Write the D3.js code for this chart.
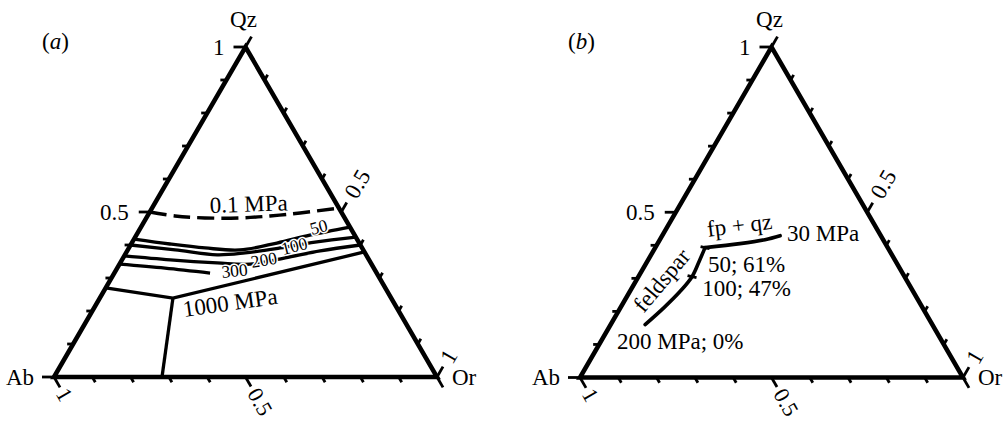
<!DOCTYPE html>
<html>
<head>
<meta charset="utf-8">
<script src="https://cdn.jsdelivr.net/npm/d3@7"></script>
<style>
  html, body { margin: 0; padding: 0; background: #fff; }
</style>
</head>
<body>
<svg id="chart" width="1006" height="422" style="font-family: 'Liberation Serif', 'Times New Roman', Times, serif;"></svg>
<script>
// Compositions are written as [Qz, Or]; Ab = 1 - Qz - Or.

const tickValues = d3.range(0, 11).map(i => i / 10);
const panelTitles = ["a", "b"];
const leftAxisLabels = [{ v: 1, text: "1" }, { v: 0.5, text: "0.5" }];      // Qz fraction
const bottomAxisLabels = [{ v: 1, text: "1" }, { v: 0.5, text: "0.5" }];    // Ab fraction
const rightAxisLabels = [{ v: 0.5, text: "0.5" }, { v: 1, text: "1" }];     // Or fraction

// (a) cotectic / minimum-melt lines at different pressures
const isobar01 = [[0.500, 0.000], [0.488, 0.072], [0.482, 0.153], [0.482, 0.245], [0.488, 0.320], [0.497, 0.394], [0.512, 0.488]];
const isobar50 = [[0.418, 0.000], [0.403, 0.101], [0.391, 0.199], [0.385, 0.293], [0.406, 0.379], [0.430, 0.453], [0.4545, 0.5455]];
const isobar100 = [[0.400, 0.000], [0.385, 0.124], [0.370, 0.241], [0.376, 0.311], [0.391, 0.395], [0.409, 0.477], [0.424, 0.576]];
const isobar200 = [[0.367, 0.000], [0.355, 0.126], [0.346, 0.253], [0.342, 0.341], [0.361, 0.423], [0.382, 0.504], [0.400, 0.600]];
const isobar300 = [[0.342, 0.000], [0.330, 0.125], [0.315, 0.250]];
const isobar1000 = [[0.270, 0.000], [0.239, 0.191], [0.379, 0.621]];
const isobar1000Tail = [[0.239, 0.191], [0.000, 0.282]];

const isobarLabels = [
  { text: "0.1 MPa", at: [0.497, 0.159], angle: -2, small: false },
  { text: "50", at: [0.430, 0.458], angle: -15, small: true },
  { text: "100", at: [0.370, 0.413], angle: -14, small: true },
  { text: "200", at: [0.330, 0.352], angle: -10, small: true },
  { text: "300", at: [0.300, 0.289], angle: -6, small: true },
  { text: "1000 MPa", at: [0.182, 0.2485], angle: -8, small: false }
];

// (b) crystallization path
const fpQzPath = [[0.393, 0.130], [0.405, 0.215], [0.417, 0.2745], [0.429, 0.308]];
const feldsparPath = [[0.393, 0.130], [0.3505, 0.1355], [0.305, 0.140], [0.260, 0.131], [0.2115, 0.1136], [0.160, 0.090]];
const pathMarks = [[0.393, 0.130], [0.305, 0.140]];
const pathLabels = [
  { text: "fp + qz", at: [0.426, 0.121], angle: -7, anchor: "start" },
  { text: "30 MPa", at: [0.414, 0.3335], angle: 0, anchor: "start" },
  { text: "50; 61%", at: [0.320, 0.174], angle: 0, anchor: "start" },
  { text: "100; 47%", at: [0.248, 0.195], angle: 0, anchor: "start" },
  { text: "200 MPa; 0%", at: [0.085, 0.054], angle: 0, anchor: "start" },
  { text: "feldspar", at: [0.290, 0.072], angle: -50, anchor: "middle" }
];

const BIG = 23, SMALL = 17.5;
const svg = d3.select("#chart");

const panels = [
  { x0: 54, x1: 437, yBase: 377, yApex: 47 },
  { x0: 580, x1: 963, yBase: 377.5, yApex: 47 }
];

function makePanel(geom, title) {
  const g = svg.append("g");
  const x = d3.scaleLinear().domain([0, 1]).range([geom.x0, geom.x1]);
  const y = d3.scaleLinear().domain([0, 1]).range([geom.yBase, geom.yApex]);
  const P = ([qz, or]) => [x(or + qz / 2), y(qz)];
  const line = d3.line().x(d => P(d)[0]).y(d => P(d)[1]);
  const smooth = d3.line().x(d => P(d)[0]).y(d => P(d)[1]).curve(d3.curveCatmullRom.alpha(0.5));

  // triangle
  g.append("path")
    .attr("d", line([[0, 0], [1, 0], [0, 1], [0, 0]]) + "Z")
    .attr("fill", "none").attr("stroke", "#000").attr("stroke-width", 4.5)
    .attr("stroke-linejoin", "miter");

  const tickLen = v => (v === 0 || v === 1) ? 12 : (v === 0.5 ? 11 : 6);
  const dirLeft = [-1, 0], dirBottom = [0.5, 0.866], dirRight = [0.5, -0.866];
  const ticks = g.append("g").attr("stroke", "#000").attr("stroke-width", 2.8);
  tickValues.forEach(v => {
    const a = P([v, 0]);                // Qz axis (left edge)
    ticks.append("line").attr("x1", a[0]).attr("y1", a[1])
      .attr("x2", a[0] + dirLeft[0] * tickLen(v)).attr("y2", a[1] + dirLeft[1] * tickLen(v));
    const b = P([0, 1 - v]);            // Ab axis (bottom edge)
    ticks.append("line").attr("x1", b[0]).attr("y1", b[1])
      .attr("x2", b[0] + dirBottom[0] * tickLen(v)).attr("y2", b[1] + dirBottom[1] * tickLen(v));
    const c = P([1 - v, v]);            // Or axis (right edge)
    ticks.append("line").attr("x1", c[0]).attr("y1", c[1])
      .attr("x2", c[0] + dirRight[0] * tickLen(v)).attr("y2", c[1] + dirRight[1] * tickLen(v));
  });

  // tick labels
  leftAxisLabels.forEach(d => {
    const p = P([d.v, 0]);
    g.append("text").attr("x", p[0] - 21).attr("y", p[1]).attr("dy", "0.33em")
      .attr("text-anchor", "end").attr("font-size", BIG).text(d.text);
  });
  bottomAxisLabels.forEach(d => {
    const p = P([0, 1 - d.v]);
    g.append("text")
      .attr("transform", `translate(${p[0] + dirBottom[0] * 15},${p[1] + dirBottom[1] * 15}) rotate(60)`)
      .attr("dy", "0.33em").attr("font-size", BIG - 1).text(d.text);
  });
  rightAxisLabels.forEach(d => {
    const p = P([1 - d.v, d.v]);
    g.append("text")
      .attr("transform", `translate(${p[0] + dirRight[0] * 18},${p[1] + dirRight[1] * 18}) rotate(-60)`)
      .attr("dy", "0.33em").attr("font-size", BIG).text(d.text);
  });

  // vertex names
  const top = P([1, 0]), ab = P([0, 0]), orV = P([0, 1]);
  g.append("text").attr("x", top[0] - 2).attr("y", top[1] - 20)
    .attr("text-anchor", "middle").attr("font-size", BIG).text("Qz");
  g.append("text").attr("x", ab[0] - 20).attr("y", ab[1]).attr("dy", "0.33em")
    .attr("text-anchor", "end").attr("font-size", BIG).text("Ab");
  g.append("text").attr("x", orV[0] + 15).attr("y", orV[1]).attr("dy", "0.33em")
    .attr("font-size", BIG).text("Or");

  // panel title
  const t = g.append("text").attr("x", geom.x0 - 12).attr("y", 49).attr("font-size", BIG);
  t.append("tspan").text("(");
  t.append("tspan").attr("font-style", "italic").text(title);
  t.append("tspan").text(")");

  return { g, P, line, smooth };
}

// ---- panel (a)
const A = makePanel(panels[0], panelTitles[0]);
A.g.append("path").attr("d", A.smooth(isobar01))
  .attr("fill", "none").attr("stroke", "#000").attr("stroke-width", 3.4)
  .attr("stroke-dasharray", "17,7");
[isobar50, isobar100, isobar200, isobar300].forEach(s => {
  A.g.append("path").attr("d", A.smooth(s))
    .attr("fill", "none").attr("stroke", "#000").attr("stroke-width", 3.3)
    .attr("stroke-linecap", "butt");
});
[isobar1000, isobar1000Tail].forEach(s => {
  A.g.append("path").attr("d", A.line(s))
    .attr("fill", "none").attr("stroke", "#000").attr("stroke-width", 3.3)
    .attr("stroke-linejoin", "miter");
});
isobarLabels.forEach(d => {
  const p = A.P(d.at);
  const el = A.g.append("text")
    .attr("transform", `translate(${p[0]},${p[1]}) rotate(${d.angle})`)
    .attr("font-size", d.small ? SMALL : BIG).text(d.text);
  if (d.small) {
    el.attr("stroke", "#fff").attr("stroke-width", 3).attr("paint-order", "stroke")
      .attr("stroke-linejoin", "round");
  }
});

// ---- panel (b)
const B = makePanel(panels[1], panelTitles[1]);
[fpQzPath, feldsparPath].forEach(s => {
  B.g.append("path").attr("d", B.smooth(s))
    .attr("fill", "none").attr("stroke", "#000").attr("stroke-width", 3.6)
    .attr("stroke-linecap", "round");
});
pathMarks.forEach(m => {
  const p = B.P(m);
  B.g.append("line").attr("x1", p[0] - 4.5).attr("y1", p[1] - 1).attr("x2", p[0] + 4.5).attr("y2", p[1] + 1)
    .attr("stroke", "#000").attr("stroke-width", 2.8);
});
pathLabels.forEach(d => {
  const p = B.P(d.at);
  B.g.append("text")
    .attr("transform", `translate(${p[0]},${p[1]}) rotate(${d.angle})`)
    .attr("text-anchor", d.anchor)
    .attr("dy", d.anchor === "middle" ? "0.25em" : null)
    .attr("font-size", BIG).text(d.text);
});
</script>
</body>
</html>
